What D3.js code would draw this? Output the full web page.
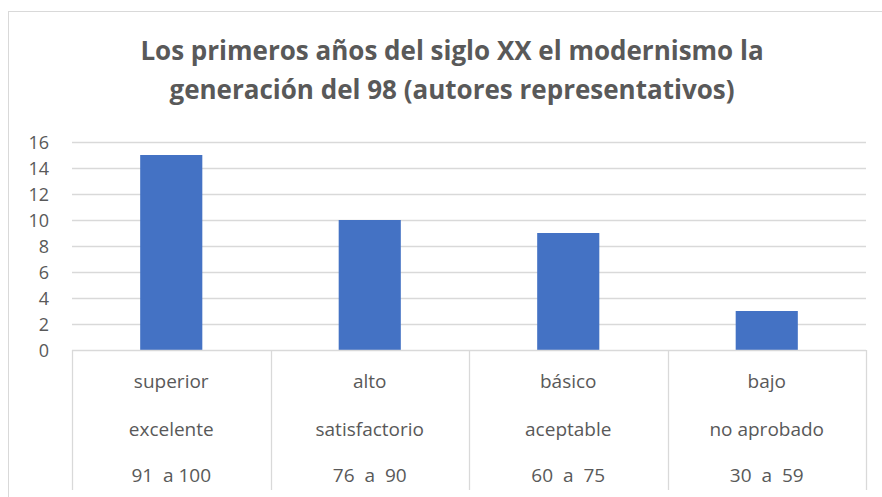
<!DOCTYPE html>
<html>
<head>
<meta charset="utf-8">
<script src="https://cdn.jsdelivr.net/npm/d3@7"></script>
<style>
  body { margin: 0; background: #fff; }
  svg { display: block; font-family: "Open Sans", sans-serif; }
</style>
</head>
<body>
<svg width="882" height="497"></svg>
<script>
// datos del gráfico
var titleLines = ["Los primeros años del siglo XX el modernismo la", "generación del 98 (autores representativos)"];
var levels = ["superior", "alto", "básico", "bajo"];
var descriptions = ["excelente", "satisfactorio", "aceptable", "no aprobado"];
var ranges = ["91  a 100", "76  a  90", "60  a  75", "30  a  59"];
var values = [15, 10, 9, 3];
var yTicks = [0, 2, 4, 6, 8, 10, 12, 14, 16];

var svg = d3.select("svg");
var textColor = "#595959";
var lineColor = "#d9d9d9";

// marco del gráfico
svg.append("rect")
  .attr("x", 8.5).attr("y", 11.5)
  .attr("width", 890).attr("height", 500)
  .attr("fill", "none")
  .attr("stroke", lineColor);

// título
svg.append("g").selectAll("text")
  .data(titleLines)
  .enter()
  .append("text")
    .attr("x", 452)
    .attr("y", (d, i) => 60 + i * 39)
    .attr("text-anchor", "middle")
    .attr("font-size", 26)
    .attr("font-weight", "bold")
    .attr("fill", textColor)
    .text(d => d);

var x = d3.scaleBand().domain(levels).range([72, 866]).padding(0);
var y = d3.scaleLinear().domain([0, 16]).range([350, 142]);
var barWidth = x.bandwidth() * 0.313;

// líneas de cuadrícula
svg.append("g").selectAll("line")
  .data(yTicks.filter(d => d > 0))
  .enter()
  .append("line")
    .attr("x1", 72).attr("x2", 866)
    .attr("y1", d => Math.round(y(d)) + 0.5)
    .attr("y2", d => Math.round(y(d)) + 0.5)
    .attr("stroke", lineColor)
    .attr("stroke-width", 1.3);

// eje y
var yAxis = svg.append("g")
  .attr("transform", "translate(49,0)")
  .call(d3.axisLeft(y).tickValues(yTicks).tickSize(0).tickPadding(0));
yAxis.select(".domain").remove();
yAxis.selectAll("text")
  .attr("font-size", 18)
  .attr("font-family", "'Open Sans', sans-serif")
  .attr("fill", textColor)
  .attr("dy", "0.35em");

// barras
svg.append("g").selectAll("rect")
  .data(values)
  .enter()
  .append("rect")
    .attr("x", (d, i) => x(levels[i]) + (x.bandwidth() - barWidth) / 2)
    .attr("y", d => y(d))
    .attr("width", barWidth)
    .attr("height", d => y(0) - y(d))
    .attr("fill", "#4472c4");

// eje x de varios niveles
svg.append("line")
  .attr("x1", 72).attr("x2", 866)
  .attr("y1", 350.5).attr("y2", 350.5)
  .attr("stroke", lineColor)
  .attr("stroke-width", 1.3);

var dividers = levels.map(d => x(d)).concat([x.range()[1]]);
svg.append("g").selectAll("line")
  .data(dividers)
  .enter()
  .append("line")
    .attr("x1", d => Math.round(d) + 0.5)
    .attr("x2", d => Math.round(d) + 0.5)
    .attr("y1", 350).attr("y2", 490)
    .attr("stroke", lineColor)
    .attr("stroke-width", 1.3);

var rows = [levels, descriptions, ranges];
var rowY = [388, 436, 482];
rows.forEach(function(row, r) {
  svg.append("g").selectAll("text")
    .data(row)
    .enter()
    .append("text")
      .attr("x", (d, i) => x(levels[i]) + x.bandwidth() / 2)
      .attr("y", rowY[r])
      .attr("text-anchor", "middle")
      .attr("font-size", 19)
      .attr("fill", textColor)
      .style("white-space", "pre")
      .text(d => d);
});
</script>
</body>
</html>
